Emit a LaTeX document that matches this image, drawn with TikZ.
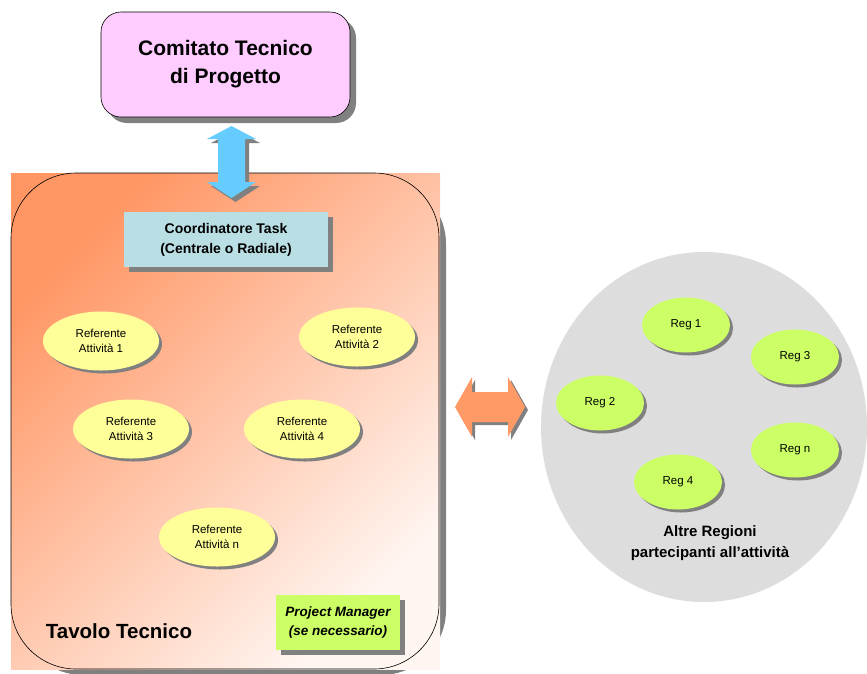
\documentclass[tikz,border=0pt]{standalone}
\usepackage{fontspec}
\setmainfont{Liberation Sans}
\usetikzlibrary{shapes.geometric,shadows,calc}
\definecolor{comitato}{RGB}{255,204,255}
\definecolor{shadowgray}{RGB}{128,128,128}
\definecolor{arrowblue}{RGB}{102,204,255}
\definecolor{coordblue}{RGB}{185,222,228}
\definecolor{refyellow}{RGB}{255,255,153}
\definecolor{reggreen}{RGB}{204,255,102}
\definecolor{altgray}{RGB}{221,221,221}
\definecolor{arroworange}{RGB}{255,153,102}
\definecolor{tavstart}{RGB}{255,150,100}
\definecolor{tavend}{RGB}{255,246,242}
\begin{document}
\begin{tikzpicture}[x=1pt,y=-1pt,
  shd/.style={drop shadow={shadow xshift=#1,shadow yshift=-#1,fill=shadowgray,opacity=1}},
  shd/.default=6pt,
  refell/.style={ellipse, fill=refyellow, minimum width=116pt, minimum height=59pt,
    inner sep=0pt, align=center, font=\fontsize{11.5}{15.5}\selectfont, shd=3pt},
  regell/.style={ellipse, fill=reggreen, minimum width=88pt, minimum height=55pt,
    inner sep=0pt, font=\fontsize{11.5}{14}\selectfont, shd=3pt},
]
\useasboundingbox (0,0) rectangle (867,673);

% Comitato Tecnico di Progetto
\node[rounded corners=20pt, draw=black, line width=0.6pt, fill=comitato,
  minimum width=249pt, minimum height=105pt, shd=6pt,
  font=\bfseries\fontsize{21}{28}\selectfont, align=center] (ctp) at (225.5,64.5)
  {Comitato Tecnico\\di Progetto};

% Tavolo Tecnico
\fill[shadowgray, rounded corners=65pt] (18,179) rectangle (446,675);
\shade[top color=tavstart, bottom color=tavend, shading angle=45] (11,173) rectangle (440,669);
\node[draw=black, line width=0.6pt, rounded corners=65pt, minimum width=428pt,
  minimum height=496pt, inner sep=0pt] (tt) at (225,421) {};
\node[font=\bfseries\fontsize{20.5}{24}\selectfont] (ttlab) at (119,631) {Tavolo Tecnico};

% vertical double arrow between ctp and tt
\coordinate (ba) at (231.5,162);
\begin{scope}[shift={($(ba)+(4,4)$)}]
  \fill[shadowgray] (0,-36) -- (24.5,-23) -- (13.5,-23) -- (13.5,20) -- (24.5,20) -- (0,36)
    -- (-24.5,20) -- (-13.5,20) -- (-13.5,-23) -- (-24.5,-23) -- cycle;
\end{scope}
\begin{scope}[shift={(ba)}]
  \fill[arrowblue] (0,-36) -- (24.5,-23) -- (13.5,-23) -- (13.5,20) -- (24.5,20) -- (0,36)
    -- (-24.5,20) -- (-13.5,20) -- (-13.5,-23) -- (-24.5,-23) -- cycle;
\end{scope}

% Coordinatore
\node[fill=coordblue, minimum width=204pt, minimum height=55pt, shd=5pt,
  font=\bfseries\fontsize{14}{20}\selectfont, align=center] (ct) at (226,239.5)
  {Coordinatore Task\\(Centrale o Radiale)};

% Referenti
\node[refell] (r1) at (101,341) {Referente\\Attività 1};
\node[refell] (r2) at (357,337) {Referente\\Attività 2};
\node[refell] (r3) at (131,429) {Referente\\Attività 3};
\node[refell] (r4) at (302,429) {Referente\\Attività 4};
\node[refell] (rn) at (217,537) {Referente\\Attività n};

% Project Manager
\node[fill=reggreen, minimum width=124pt, minimum height=55pt, shd=5pt,
  font=\bfseries\itshape\fontsize{13.5}{19}\selectfont, align=center] (pm) at (338,622)
  {Project Manager\\(se necessario)};

% Altre Regioni
\node[ellipse, fill=altgray, minimum width=326pt, minimum height=350pt] (alt) at (704,427) {};
\node[regell] (g1) at (686,325) {Reg 1};
\node[regell] (g3) at (795,357) {Reg 3};
\node[regell] (g2) at (600,403) {Reg 2};
\node[regell] (gn) at (795,450) {Reg n};
\node[regell] (g4) at (678,482) {Reg 4};
\node[font=\bfseries\fontsize{15}{21}\selectfont, align=center] (altlab) at (710,543)
  {Altre Regioni\\partecipanti all’attività};

% horizontal double arrow between tt and alt
\coordinate (oa) at (490,407);
\begin{scope}[shift={($(oa)+(3,3)$)}]
  \fill[shadowgray] (-35,0) -- (-18,-30) -- (-18,-15) -- (18,-15) -- (18,-30) -- (35,0)
    -- (18,30) -- (18,15) -- (-18,15) -- (-18,30) -- cycle;
\end{scope}
\begin{scope}[shift={(oa)}]
  \fill[arroworange] (-35,0) -- (-18,-30) -- (-18,-15) -- (18,-15) -- (18,-30) -- (35,0)
    -- (18,30) -- (18,15) -- (-18,15) -- (-18,30) -- cycle;
\end{scope}
\end{tikzpicture}
\end{document}
